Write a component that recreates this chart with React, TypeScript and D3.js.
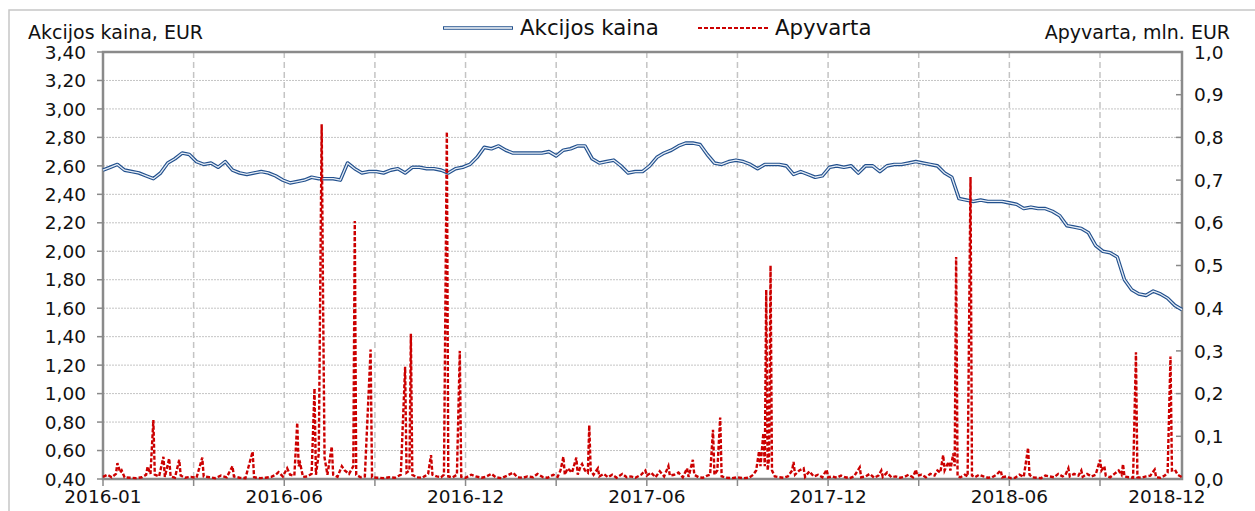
import React, { useEffect, useRef } from "react";
import * as d3 from "d3";

// share price, EUR, one reading every 5 trading days (2016-01 .. 2018-12)
const priceStep = 5;
const price = [
  2.57, 2.59, 2.61, 2.57, 2.56, 2.55, 2.53, 2.51, 2.55, 2.62,
  2.65, 2.69, 2.68, 2.63, 2.61, 2.62, 2.59, 2.63, 2.57, 2.55,
  2.54, 2.55, 2.56, 2.55, 2.53, 2.50, 2.48, 2.49, 2.50, 2.52,
  2.51, 2.51, 2.51, 2.50, 2.62, 2.58, 2.55, 2.56, 2.56, 2.55,
  2.57, 2.58, 2.55, 2.59, 2.59, 2.58, 2.58, 2.57, 2.55, 2.58,
  2.59, 2.61, 2.66, 2.73, 2.72, 2.74, 2.71, 2.69, 2.69, 2.69,
  2.69, 2.69, 2.70, 2.67, 2.71, 2.72, 2.74, 2.74, 2.65, 2.62,
  2.63, 2.64, 2.60, 2.55, 2.56, 2.56, 2.60, 2.66, 2.69, 2.71,
  2.74, 2.76, 2.76, 2.75, 2.68, 2.62, 2.61, 2.63, 2.64, 2.63,
  2.61, 2.58, 2.61, 2.61, 2.61, 2.60, 2.54, 2.56, 2.54, 2.52,
  2.53, 2.59, 2.60, 2.59, 2.60, 2.55, 2.60, 2.60, 2.56, 2.60,
  2.61, 2.61, 2.62, 2.63, 2.62, 2.61, 2.60, 2.55, 2.52, 2.37,
  2.36, 2.35, 2.36, 2.35, 2.35, 2.35, 2.34, 2.33, 2.30, 2.31,
  2.30, 2.30, 2.28, 2.25, 2.18, 2.17, 2.16, 2.13, 2.04, 2.00,
  1.99, 1.96, 1.80, 1.73, 1.70, 1.69, 1.72, 1.70, 1.67, 1.62,
  1.59,
];

// turnover, mln. EUR: [trading day, value]
const turnover: [number, number][] = [
  [0, 0.005], [3, 0.01], [6, 0.004], [9, 0.012], [10, 0.037], [12, 0.015], [13, 0.02], [15, 0.004],
  [19, 0.003], [23, 0.002], [27, 0.004], [30, 0.01], [31, 0.029], [33, 0.012], [35, 0.138], [36, 0.01],
  [39, 0.006], [42, 0.052], [43, 0.005], [46, 0.048], [47, 0.006], [50, 0.003], [53, 0.045], [54, 0.008],
  [57, 0.003], [61, 0.005], [65, 0.003], [69, 0.05], [70, 0.006], [74, 0.004], [78, 0.002], [82, 0.008],
  [86, 0.004], [90, 0.03], [91, 0.006], [95, 0.003], [99, 0.002], [104, 0.064], [105, 0.004], [109, 0.002],
  [113, 0.003], [117, 0.005], [120, 0.01], [122, 0.016], [125, 0.006], [128, 0.025], [130, 0.01], [133, 0.008],
  [135, 0.132], [136, 0.03], [137, 0.037], [139, 0.005], [142, 0.006], [145, 0.012], [147, 0.212], [148, 0.01],
  [150, 0.06], [152, 0.831], [153, 0.405], [154, 0.05], [156, 0.01], [159, 0.076], [160, 0.01], [163, 0.005],
  [166, 0.03], [168, 0.02], [171, 0.012], [174, 0.03], [175, 0.604], [176, 0.01], [179, 0.004], [182, 0.006],
  [186, 0.303], [187, 0.004], [191, 0.003], [195, 0.002], [199, 0.004], [203, 0.003], [207, 0.01], [210, 0.263],
  [211, 0.015], [213, 0.02], [214, 0.34], [215, 0.01], [218, 0.004], [222, 0.003], [226, 0.012], [228, 0.056],
  [229, 0.01], [232, 0.006], [235, 0.004], [237, 0.01], [239, 0.813], [240, 0.006], [243, 0.004], [246, 0.01],
  [248, 0.3], [249, 0.005], [252, 0.003], [256, 0.01], [259, 0.006], [263, 0.003], [266, 0.005], [270, 0.012],
  [273, 0.004], [277, 0.002], [281, 0.008], [285, 0.015], [288, 0.004], [292, 0.003], [295, 0.006], [299, 0.004],
  [302, 0.012], [306, 0.004], [309, 0.003], [313, 0.01], [316, 0.005], [318, 0.02], [320, 0.052], [321, 0.01],
  [323, 0.025], [326, 0.015], [329, 0.05], [330, 0.01], [332, 0.03], [333, 0.035], [335, 0.02], [337, 0.015],
  [338, 0.126], [339, 0.02], [341, 0.01], [344, 0.025], [345, 0.006], [348, 0.012], [351, 0.004], [354, 0.01],
  [357, 0.003], [361, 0.012], [364, 0.004], [367, 0.006], [370, 0.003], [374, 0.01], [377, 0.02], [378, 0.008],
  [381, 0.015], [384, 0.004], [387, 0.018], [390, 0.006], [393, 0.03], [394, 0.008], [397, 0.01], [400, 0.015],
  [403, 0.004], [406, 0.025], [407, 0.005], [410, 0.045], [411, 0.01], [414, 0.004], [417, 0.003], [420, 0.008],
  [422, 0.01], [424, 0.115], [425, 0.01], [427, 0.02], [429, 0.144], [430, 0.006], [433, 0.003], [437, 0.002],
  [441, 0.004], [445, 0.002], [449, 0.003], [452, 0.01], [454, 0.02], [456, 0.065], [457, 0.03], [459, 0.107],
  [460, 0.03], [461, 0.443], [462, 0.02], [463, 0.05], [464, 0.5], [465, 0.02], [467, 0.006], [470, 0.004],
  [473, 0.003], [476, 0.006], [479, 0.02], [480, 0.04], [481, 0.01], [484, 0.02], [487, 0.025], [488, 0.005],
  [491, 0.018], [494, 0.006], [497, 0.01], [500, 0.004], [503, 0.022], [504, 0.004], [507, 0.006], [510, 0.003],
  [513, 0.008], [516, 0.004], [519, 0.002], [522, 0.006], [526, 0.027], [527, 0.004], [530, 0.006], [533, 0.012],
  [536, 0.003], [539, 0.008], [541, 0.02], [542, 0.005], [545, 0.015], [548, 0.004], [551, 0.006], [554, 0.003],
  [557, 0.005], [560, 0.01], [563, 0.004], [565, 0.022], [566, 0.008], [569, 0.01], [572, 0.004], [575, 0.012],
  [578, 0.008], [580, 0.02], [582, 0.015], [584, 0.056], [585, 0.02], [587, 0.035], [588, 0.04], [589, 0.02],
  [591, 0.06], [592, 0.03], [593, 0.52], [594, 0.006], [596, 0.004], [599, 0.01], [601, 0.006], [603, 0.707],
  [604, 0.008], [606, 0.004], [609, 0.01], [612, 0.006], [615, 0.003], [618, 0.004], [621, 0.01], [624, 0.02],
  [625, 0.004], [628, 0.006], [631, 0.002], [634, 0.003], [637, 0.01], [640, 0.005], [643, 0.073], [644, 0.01],
  [646, 0.004], [649, 0.003], [652, 0.002], [655, 0.008], [658, 0.006], [661, 0.004], [664, 0.012], [667, 0.006],
  [669, 0.01], [671, 0.025], [672, 0.006], [675, 0.012], [678, 0.008], [680, 0.02], [681, 0.005], [684, 0.012],
  [687, 0.006], [690, 0.01], [693, 0.045], [694, 0.02], [696, 0.03], [697, 0.008], [700, 0.004], [703, 0.012],
  [706, 0.02], [708, 0.01], [709, 0.035], [710, 0.006], [713, 0.004], [716, 0.003], [718, 0.297], [719, 0.004],
  [722, 0.003], [725, 0.006], [728, 0.008], [731, 0.022], [732, 0.004], [735, 0.003], [738, 0.008], [740, 0.015],
  [742, 0.287], [743, 0.02], [745, 0.022], [747, 0.01], [750, 0.004],
];

const totalDays = 750;
const gridEvery = 63;
const labelEvery = 126;
const xLabels = ["2016-01", "2016-06", "2016-12", "2017-06", "2017-12", "2018-06", "2018-12"];
const leftTicks = [0.4, 0.6, 0.8, 1.0, 1.2, 1.4, 1.6, 1.8, 2.0, 2.2, 2.4, 2.6, 2.8, 3.0, 3.2, 3.4];
const rightTicks = [0, 0.1, 0.2, 0.3, 0.4, 0.5, 0.6, 0.7, 0.8, 0.9, 1.0];

const W = 1255, H = 511;
const FONT = "'DejaVu Sans', Verdana, sans-serif";
const BLUE = "#22508d", BLUE_IN = "#e6edf6", RED = "#cc0000";

export default function App() {
  const ref = useRef<SVGSVGElement>(null);

  useEffect(() => {
    const svg = d3.select(ref.current);
    svg.selectAll("*").remove();

    const m = { left: 103, right: 1182, top: 52, bottom: 479 };
    const x = d3.scaleLinear().domain([0, totalDays]).range([m.left, m.right]);
    const yL = d3.scaleLinear().domain([0.4, 3.4]).range([m.bottom, m.top]);
    const yR = d3.scaleLinear().domain([0, 1]).range([m.bottom, m.top]);
    const fmt2 = (v: number) => d3.format(".2f")(v).replace(".", ",");
    const fmt1 = (v: number) => d3.format(".1f")(v).replace(".", ",");

    // outer chart border
    svg.append("rect")
      .attr("x", 9).attr("y", 10).attr("width", W).attr("height", H)
      .attr("fill", "white").attr("stroke", "#c6c6c6").attr("stroke-width", 1.5);

    // horizontal gridlines
    svg.append("g").selectAll("line")
      .data(leftTicks.slice(1, -1))
      .join("line")
      .attr("x1", m.left).attr("x2", m.right)
      .attr("y1", d => yL(d)).attr("y2", d => yL(d))
      .attr("stroke", "#c4c4c4").attr("stroke-width", 1).attr("stroke-dasharray", "2,1");

    // vertical gridlines
    const gridDays = d3.range(gridEvery, totalDays, gridEvery);
    svg.append("g").selectAll("line")
      .data(gridDays)
      .join("line")
      .attr("x1", d => x(d)).attr("x2", d => x(d))
      .attr("y1", m.top).attr("y2", m.bottom)
      .attr("stroke", "#c4c4c4").attr("stroke-width", 1.5).attr("stroke-dasharray", "6,4");

    // plot frame
    svg.append("rect")
      .attr("x", m.left).attr("y", m.top)
      .attr("width", m.right - m.left).attr("height", m.bottom - m.top)
      .attr("fill", "none").attr("stroke", "#8a8a8a").attr("stroke-width", 2.5);

    // ticks
    svg.append("g").selectAll("line")
      .data(leftTicks)
      .join("line")
      .attr("x1", m.left - 6).attr("x2", m.left)
      .attr("y1", d => yL(d)).attr("y2", d => yL(d))
      .attr("stroke", "#8a8a8a").attr("stroke-width", 1.5);
    svg.append("g").selectAll("line")
      .data(rightTicks)
      .join("line")
      .attr("x1", m.right - 6).attr("x2", m.right)
      .attr("y1", d => yR(d)).attr("y2", d => yR(d))
      .attr("stroke", "#8a8a8a").attr("stroke-width", 1.5);
    svg.append("g").selectAll("line")
      .data([0, ...gridDays])
      .join("line")
      .attr("x1", d => x(d)).attr("x2", d => x(d))
      .attr("y1", m.bottom).attr("y2", m.bottom + 7)
      .attr("stroke", "#8a8a8a").attr("stroke-width", 1.5);

    // tick labels
    const text = (g: any, size = 18.5) =>
      g.attr("font-family", FONT).attr("font-size", size).attr("fill", "#111");
    svg.append("g").call(text).selectAll("text")
      .data(leftTicks)
      .join("text")
      .attr("x", 86).attr("y", d => yL(d)).attr("dy", "0.36em")
      .attr("text-anchor", "end")
      .text(d => fmt2(d));
    svg.append("g").call(text).selectAll("text")
      .data(rightTicks)
      .join("text")
      .attr("x", 1194).attr("y", d => yR(d)).attr("dy", "0.36em")
      .text(d => fmt1(d));
    svg.append("g").call(text).selectAll("text")
      .data(xLabels)
      .join("text")
      .attr("x", (d, i) => Math.min(x(Math.min(i * labelEvery, totalDays)), m.right - 15))
      .attr("y", 503)
      .attr("text-anchor", "middle")
      .text(d => d);

    // axis titles
    svg.append("text").call(text, 19)
      .attr("x", 28).attr("y", 39)
      .text("Akcijos kaina, EUR");
    svg.append("text").call(text, 19)
      .attr("x", 1230).attr("y", 39).attr("text-anchor", "end")
      .text("Apyvarta, mln. EUR");

    // price line (double line)
    const priceLine = d3.line<number>()
      .x((d, i) => x(i * priceStep))
      .y(d => yL(d));
    svg.append("path").datum(price)
      .attr("d", priceLine)
      .attr("fill", "none").attr("stroke", BLUE).attr("stroke-width", 3.6)
      .attr("stroke-linejoin", "round");
    svg.append("path").datum(price)
      .attr("d", priceLine)
      .attr("fill", "none").attr("stroke", BLUE_IN).attr("stroke-width", 1.3)
      .attr("stroke-linejoin", "round");

    // turnover line
    const turnLine = d3.line<[number, number]>()
      .x(d => x(d[0]))
      .y(d => yR(d[1]));
    svg.append("path").datum(turnover)
      .attr("d", turnLine)
      .attr("fill", "none").attr("stroke", RED).attr("stroke-width", 2.4)
      .attr("stroke-dasharray", "4,2");

    // legend
    const lg = svg.append("g");
    lg.append("line").attr("x1", 443).attr("x2", 513).attr("y1", 28).attr("y2", 28)
      .attr("stroke", BLUE).attr("stroke-width", 3.6);
    lg.append("line").attr("x1", 444).attr("x2", 512).attr("y1", 28).attr("y2", 28)
      .attr("stroke", "white").attr("stroke-width", 1.3);
    lg.append("text").call(text, 21.3).attr("x", 520).attr("y", 35)
      .text("Akcijos kaina");
    lg.append("line").attr("x1", 698).attr("x2", 768).attr("y1", 28).attr("y2", 28)
      .attr("stroke", RED).attr("stroke-width", 2).attr("stroke-dasharray", "4,2");
    lg.append("text").call(text, 21.3).attr("x", 775).attr("y", 35)
      .text("Apyvarta");
  }, []);

  return (
    <svg ref={ref} width={W} height={H}
      style={{ position: "absolute", left: 0, top: 0, background: "white" }} />
  );
}
